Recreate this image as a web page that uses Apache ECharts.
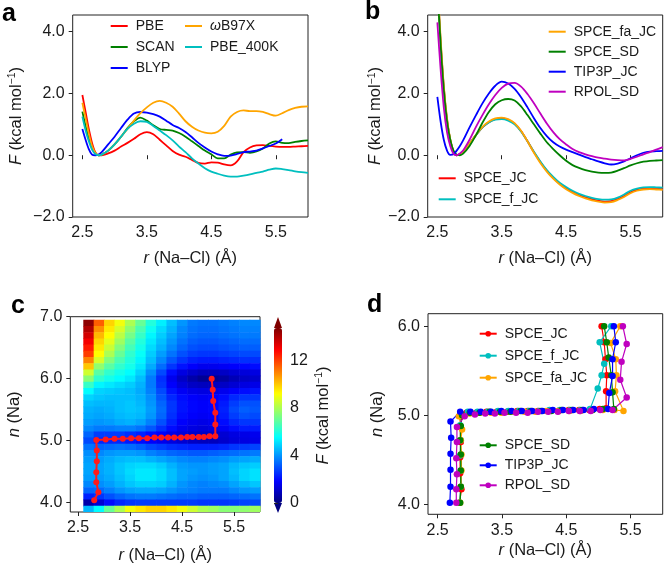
<!DOCTYPE html>
<html>
<head>
<meta charset="utf-8">
<script src="https://cdn.jsdelivr.net/npm/echarts@6/dist/echarts.min.js"></script>
<style>
html, body { margin: 0; padding: 0; background: #fff; }
#chart { width: 664px; height: 565px; }
</style>
</head>
<body>
<div id="chart"></div>
<script>
// ---------- panel a : DFT functionals ----------
const rA = [2.5, 2.55, 2.6, 2.65, 2.7, 2.75, 2.8, 2.9, 3.0, 3.1, 3.2, 3.3, 3.4, 3.5, 3.6, 3.7, 3.8, 3.9, 4.0,
  4.1, 4.2, 4.3, 4.4, 4.5, 4.6, 4.7, 4.8, 4.9, 5.0, 5.1, 5.2, 5.3, 5.4, 5.5, 5.6, 5.7, 5.8, 5.9, 6.0];
const fPBE = [1.95, 1.4, 0.85, 0.4, 0.1, 0.0, 0.0, 0.06, 0.15, 0.28, 0.4, 0.53, 0.68, 0.75, 0.68, 0.5, 0.32, 0.14, 0.02,
  -0.05, -0.15, -0.25, -0.27, -0.23, -0.24, -0.3, -0.33, -0.2, 0.1, 0.25, 0.32, 0.33, 0.3, 0.28, 0.27, 0.27, 0.28, 0.29, 0.3];
const fSCAN = [1.41, 0.95, 0.55, 0.25, 0.07, 0.0, 0.02, 0.15, 0.35, 0.6, 0.88, 1.1, 1.22, 1.12, 0.97, 0.85, 0.82, 0.8, 0.72,
  0.6, 0.45, 0.3, 0.15, 0.03, -0.1, -0.1, 0.02, 0.09, 0.1, 0.08, 0.12, 0.22, 0.38, 0.45, 0.4, 0.39, 0.43, 0.46, 0.48];
const fBLYP = [0.85, 0.5, 0.2, 0.02, 0.0, 0.02, 0.1, 0.35, 0.6, 0.88, 1.15, 1.35, 1.4, 1.38, 1.33, 1.25, 1.12, 0.98, 0.88,
  0.75, 0.58, 0.4, 0.25, 0.12, 0.03, -0.02, -0.01, 0.04, 0.1, 0.12, 0.15, 0.22, 0.3, 0.38, 0.52];
const fWB97X = [1.7, 1.2, 0.7, 0.3, 0.08, 0.0, 0.02, 0.15, 0.35, 0.6, 0.85, 1.12, 1.36, 1.55, 1.7, 1.76, 1.7, 1.57, 1.35,
  1.1, 0.92, 0.8, 0.73, 0.71, 0.76, 0.95, 1.25, 1.4, 1.45, 1.43, 1.43, 1.4, 1.33, 1.28, 1.36, 1.46, 1.53, 1.57, 1.58];
const fPBE400 = [1.25, 0.8, 0.45, 0.18, 0.04, 0.0, 0.02, 0.15, 0.35, 0.6, 0.85, 1.02, 1.1, 1.08, 0.95, 0.8, 0.65, 0.48, 0.28,
  0.1, -0.1, -0.27, -0.42, -0.53, -0.6, -0.66, -0.69, -0.69, -0.66, -0.62, -0.57, -0.53, -0.47, -0.43, -0.45, -0.48, -0.52, -0.55, -0.57];

// ---------- panel b : force fields ----------
const rB = [2.5, 2.55, 2.6, 2.65, 2.7, 2.75, 2.8, 2.85, 2.9, 3.0, 3.1, 3.2, 3.3, 3.4, 3.5, 3.6, 3.7, 3.8, 3.9, 4.0,
  4.1, 4.2, 4.3, 4.4, 4.5, 4.6, 4.7, 4.8, 4.9, 5.0, 5.1, 5.2, 5.3, 5.4, 5.5, 5.6, 5.7, 5.8, 5.9, 6.0];
const fSpceJC = [5.6, 3.7, 2.2, 1.15, 0.5, 0.12, 0.0, 0.03, 0.12, 0.38, 0.65, 0.9, 1.07, 1.17, 1.2, 1.15, 1.02, 0.78, 0.45, 0.1,
  -0.22, -0.5, -0.73, -0.92, -1.06, -1.18, -1.28, -1.36, -1.42, -1.47, -1.5, -1.49, -1.42, -1.32, -1.2, -1.12, -1.08, -1.07, -1.08, -1.1];
const fSpceFJC = [5.6, 3.7, 2.2, 1.15, 0.5, 0.12, 0.0, 0.03, 0.12, 0.38, 0.65, 0.9, 1.06, 1.15, 1.17, 1.12, 1.0, 0.77, 0.45, 0.11,
  -0.2, -0.48, -0.7, -0.89, -1.03, -1.15, -1.25, -1.32, -1.38, -1.42, -1.44, -1.43, -1.37, -1.27, -1.15, -1.08, -1.04, -1.03, -1.04, -1.05];
const fSpceFaJC = [5.7, 3.8, 2.25, 1.2, 0.52, 0.13, 0.0, 0.03, 0.12, 0.38, 0.66, 0.92, 1.09, 1.19, 1.22, 1.17, 1.04, 0.79, 0.45, 0.08,
  -0.25, -0.53, -0.76, -0.95, -1.1, -1.22, -1.32, -1.4, -1.46, -1.5, -1.53, -1.52, -1.45, -1.35, -1.23, -1.15, -1.11, -1.1, -1.11, -1.12];
const fSpceSD = [5.5, 3.6, 2.1, 1.1, 0.5, 0.15, 0.02, 0.0, 0.05, 0.3, 0.65, 1.05, 1.4, 1.65, 1.78, 1.82, 1.77, 1.58, 1.3, 1.0,
  0.7, 0.42, 0.2, 0.0, -0.18, -0.32, -0.41, -0.48, -0.53, -0.56, -0.57, -0.56, -0.5, -0.42, -0.33, -0.26, -0.21, -0.18, -0.17, -0.16];
const fTip3pJC = [1.89, 1.1, 0.5, 0.15, 0.01, 0.03, 0.15, 0.3, 0.48, 0.9, 1.3, 1.68, 2.0, 2.25, 2.38, 2.32, 2.15, 1.88, 1.55, 1.2,
  0.88, 0.62, 0.42, 0.28, 0.18, 0.1, 0.02, -0.06, -0.13, -0.2, -0.26, -0.3, -0.27, -0.2, -0.1, 0.0, 0.08, 0.12, 0.13, 0.14];
const fRpolSD = [4.3, 2.8, 1.55, 0.75, 0.3, 0.05, 0.0, 0.06, 0.15, 0.5, 0.92, 1.3, 1.65, 1.95, 2.18, 2.32, 2.34, 2.22, 1.98, 1.68,
  1.35, 1.03, 0.75, 0.52, 0.35, 0.2, 0.1, 0.03, -0.03, -0.08, -0.11, -0.14, -0.16, -0.17, -0.12, -0.05, 0.03, 0.1, 0.18, 0.26];

// ---------- panel c : free energy surface F(r, n) ----------
const rCols = [2.7, 2.9, 3.1, 3.3, 3.5, 3.7, 3.9, 4.1, 4.3, 4.5, 4.7, 4.9, 5.1, 5.3, 5.5, 5.7, 5.9];
const nRows = [6.9, 6.8, 6.7, 6.6, 6.5, 6.4, 6.3, 6.2, 6.1, 6.0, 5.9, 5.8, 5.7, 5.6, 5.5, 5.4, 5.3, 5.2, 5.1, 5.0,
  4.9, 4.8, 4.7, 4.6, 4.5, 4.4, 4.3, 4.2, 4.1, 4.0, 3.9];
const fGrid = [
  [14.5, 11.5, 9.8, 9.0, 8.0, 7.0, 6.0, 5.3, 4.6, 4.0, 3.6, 3.5, 3.5, 3.6, 3.7, 3.8, 3.8],
  [14.0, 10.8, 9.5, 8.6, 7.6, 6.6, 5.7, 5.0, 4.4, 3.8, 3.5, 3.4, 3.4, 3.5, 3.6, 3.7, 3.7],
  [13.5, 10.2, 9.2, 8.2, 7.2, 6.3, 5.4, 4.8, 4.2, 3.7, 3.4, 3.3, 3.3, 3.4, 3.5, 3.6, 3.6],
  [13.0, 9.8, 8.8, 7.8, 6.8, 6.0, 5.2, 4.6, 4.0, 3.5, 3.2, 3.1, 3.1, 3.2, 3.3, 3.4, 3.4],
  [12.5, 9.5, 8.4, 7.4, 6.5, 5.8, 5.0, 4.4, 3.8, 3.3, 3.0, 2.9, 2.9, 3.0, 3.1, 3.2, 3.2],
  [12.0, 9.2, 8.0, 7.0, 6.2, 5.6, 4.8, 4.1, 3.5, 3.0, 2.7, 2.6, 2.6, 2.7, 2.8, 2.9, 2.9],
  [11.0, 8.6, 7.4, 6.6, 6.0, 5.4, 4.6, 3.8, 3.1, 2.6, 2.3, 2.2, 2.2, 2.3, 2.4, 2.5, 2.5],
  [10.0, 7.6, 6.8, 6.2, 5.8, 5.2, 4.3, 3.4, 2.6, 2.1, 1.8, 1.6, 1.6, 1.7, 1.8, 1.9, 2.0],
  [8.5, 6.8, 6.2, 5.8, 5.5, 4.9, 3.9, 2.9, 2.0, 1.4, 1.1, 0.9, 0.9, 1.0, 1.2, 1.3, 1.4],
  [7.5, 6.2, 5.8, 5.5, 5.2, 4.6, 3.6, 2.5, 1.6, 1.0, 0.6, 0.3, 0.3, 0.5, 0.8, 1.0, 1.1],
  [6.3, 5.4, 5.2, 5.0, 4.8, 4.4, 3.6, 2.6, 1.8, 1.3, 1.0, 0.9, 0.9, 1.0, 1.2, 1.4, 1.5],
  [5.5, 4.9, 4.8, 4.7, 4.6, 4.3, 3.7, 2.9, 2.1, 1.7, 1.5, 1.4, 1.4, 1.6, 1.8, 2.0, 2.1],
  [4.9, 4.7, 4.6, 4.6, 4.6, 4.4, 3.9, 3.1, 2.4, 2.0, 1.8, 1.7, 1.8, 2.0, 2.4, 2.6, 2.6],
  [4.6, 4.5, 4.5, 4.6, 4.7, 4.5, 4.0, 3.3, 2.6, 2.1, 1.9, 1.8, 1.9, 2.2, 2.7, 3.0, 3.0],
  [4.4, 4.3, 4.4, 4.6, 4.7, 4.6, 4.1, 3.4, 2.6, 2.1, 1.9, 1.8, 1.9, 2.3, 2.9, 3.2, 3.1],
  [4.3, 4.2, 4.3, 4.5, 4.6, 4.5, 4.0, 3.3, 2.5, 2.0, 1.8, 1.7, 1.8, 2.2, 2.7, 3.0, 2.9],
  [4.1, 4.0, 4.1, 4.3, 4.4, 4.2, 3.7, 3.0, 2.3, 1.8, 1.6, 1.5, 1.6, 2.0, 2.4, 2.6, 2.6],
  [3.8, 3.6, 3.6, 3.7, 3.7, 3.5, 3.1, 2.5, 2.0, 1.6, 1.4, 1.3, 1.4, 1.7, 2.0, 2.2, 2.2],
  [3.3, 2.7, 2.7, 2.7, 2.5, 2.3, 2.0, 1.8, 1.5, 1.3, 1.1, 1.0, 1.0, 1.2, 1.4, 1.5, 1.6],
  [2.9, 2.4, 2.4, 2.4, 2.2, 2.0, 1.8, 1.6, 1.4, 1.2, 1.0, 0.9, 0.9, 1.1, 1.3, 1.4, 1.5],
  [3.5, 3.3, 3.4, 3.5, 3.4, 3.2, 2.9, 2.7, 2.5, 2.4, 2.3, 2.3, 2.3, 2.4, 2.6, 2.7, 2.8],
  [3.9, 3.8, 4.0, 4.1, 4.1, 4.0, 3.7, 3.5, 3.3, 3.2, 3.1, 3.1, 3.2, 3.3, 3.4, 3.5, 3.6],
  [4.1, 4.1, 4.3, 4.5, 4.6, 4.6, 4.4, 4.2, 4.0, 3.8, 3.7, 3.7, 3.8, 3.9, 4.1, 4.2, 4.3],
  [4.2, 4.2, 4.4, 4.7, 4.9, 5.0, 5.0, 4.8, 4.4, 4.1, 4.0, 4.0, 4.1, 4.2, 4.5, 4.7, 4.8],
  [4.2, 4.2, 4.4, 4.7, 5.0, 5.2, 5.2, 5.0, 4.6, 4.2, 4.1, 4.0, 4.1, 4.2, 4.6, 4.9, 5.1],
  [4.1, 4.1, 4.3, 4.6, 4.9, 5.2, 5.2, 5.0, 4.6, 4.2, 4.0, 3.9, 4.0, 4.2, 4.5, 4.9, 5.1],
  [3.8, 3.9, 4.1, 4.4, 4.7, 4.9, 4.9, 4.8, 4.4, 4.0, 3.8, 3.7, 3.8, 3.9, 4.2, 4.5, 4.7],
  [3.3, 3.4, 3.7, 4.0, 4.2, 4.3, 4.3, 4.2, 4.0, 3.8, 3.7, 3.6, 3.6, 3.6, 3.8, 4.0, 4.1],
  [2.3, 2.6, 3.0, 3.3, 3.5, 3.6, 3.6, 3.5, 3.4, 3.3, 3.3, 3.2, 3.2, 3.2, 3.3, 3.4, 3.5],
  [0.6, 1.2, 2.0, 2.4, 2.6, 2.7, 2.7, 2.7, 2.7, 2.7, 2.7, 2.6, 2.6, 2.6, 2.7, 2.8, 2.9],
  [4.5, 5.5, 7.0, 8.0, 9.0, 9.5, 9.8, 9.8, 9.5, 9.0, 8.5, 8.0, 7.8, 7.5, 7.5, 7.6, 7.8]
];
// minimum free energy path drawn on the surface
const pathR = [2.81, 2.89, 2.85, 2.85, 2.86, 2.86, 2.85, 3.03, 3.2, 3.36, 3.52, 3.67, 3.83, 3.97, 4.1, 4.23, 4.35,
  4.48, 4.6, 4.7, 4.82, 4.92, 5.03, 5.14, 5.14, 5.14, 5.1, 5.09, 5.07];
const pathN = [4.04, 4.17, 4.33, 4.49, 4.67, 4.84, 5.01, 5.02, 5.03, 5.03, 5.04, 5.04, 5.04, 5.05, 5.05, 5.05, 5.05,
  5.05, 5.06, 5.06, 5.06, 5.06, 5.07, 5.07, 5.26, 5.45, 5.64, 5.82, 6.0];

// ---------- panel d : string paths per force field ----------
const dSpceJC = [[2.84, 4.02], [2.87, 4.17], [2.85, 4.35], [2.85, 4.53], [2.86, 4.7], [2.85, 4.87], [2.87, 4.99],
  [2.95, 5.03], [3.1, 5.03], [3.26, 5.04], [3.42, 5.04], [3.58, 5.04], [3.74, 5.05], [3.9, 5.05], [4.06, 5.05],
  [4.22, 5.05], [4.38, 5.05], [4.54, 5.06], [4.7, 5.06], [4.86, 5.06], [5.02, 5.07], [5.12, 5.08],
  [5.12, 5.27], [5.13, 5.45], [5.11, 5.63], [5.09, 5.82], [5.05, 6.0]];
const dSpceFJC = [[2.84, 4.02], [2.86, 4.2], [2.86, 4.38], [2.85, 4.55], [2.86, 4.72], [2.85, 4.89], [2.86, 5.0],
  [2.97, 5.04], [3.12, 5.04], [3.28, 5.04], [3.44, 5.05], [3.6, 5.05], [3.76, 5.05], [3.92, 5.05], [4.08, 5.05],
  [4.24, 5.06], [4.4, 5.06], [4.56, 5.06], [4.72, 5.06], [4.87, 5.07],
  [4.99, 5.3], [5.05, 5.45], [5.09, 5.58], [5.02, 5.82], [5.2, 6.0]];
const dSpceFaJC = [[2.85, 4.02], [2.86, 4.2], [2.87, 4.38], [2.87, 4.56], [2.86, 4.72], [2.88, 4.84], [2.83, 4.99],
  [3.0, 5.02], [3.16, 5.03], [3.33, 5.03], [3.49, 5.03], [3.67, 5.04], [3.85, 5.04], [4.02, 5.04], [4.19, 5.05],
  [4.37, 5.05], [4.55, 5.05], [4.72, 5.05], [4.9, 5.06], [5.07, 5.06], [5.25, 5.06], [5.39, 5.05],
  [5.26, 5.27], [5.28, 5.45], [5.27, 5.63], [5.19, 5.81], [5.34, 6.0]];
const dSpceSD = [[2.85, 4.02], [2.86, 4.2], [2.86, 4.38], [2.86, 4.56], [2.85, 4.72], [2.86, 4.88], [2.88, 5.0],
  [3.0, 5.03], [3.15, 5.03], [3.31, 5.04], [3.47, 5.04], [3.63, 5.04], [3.79, 5.05], [3.95, 5.05], [4.11, 5.05],
  [4.27, 5.05], [4.43, 5.06], [4.59, 5.06], [4.75, 5.06], [4.91, 5.06], [5.07, 5.07], [5.24, 5.07],
  [5.22, 5.26], [5.2, 5.45], [5.16, 5.65], [5.13, 5.82], [5.09, 6.0]];
const dTip3pJC = [[2.69, 4.02], [2.7, 4.2], [2.7, 4.39], [2.7, 4.57], [2.71, 4.75], [2.7, 4.93],
  [2.85, 5.04], [3.01, 5.04], [3.17, 5.04], [3.33, 5.04], [3.49, 5.05], [3.65, 5.05], [3.81, 5.05], [3.97, 5.05],
  [4.13, 5.05], [4.29, 5.06], [4.45, 5.06], [4.61, 5.06], [4.77, 5.06], [4.93, 5.07], [5.15, 5.07],
  [5.17, 5.25], [5.22, 5.44], [5.22, 5.63], [5.27, 5.82], [5.24, 6.0]];
const dRpolSD = [[2.79, 4.02], [2.79, 4.17], [2.8, 4.34], [2.79, 4.52], [2.8, 4.7], [2.8, 4.87],
  [2.92, 4.99], [3.08, 5.01], [3.24, 5.02], [3.39, 5.02], [3.54, 5.03], [3.72, 5.03], [3.9, 5.03], [4.06, 5.04],
  [4.22, 5.04], [4.37, 5.04], [4.54, 5.05], [4.71, 5.05], [4.88, 5.05], [5.03, 5.06], [5.22, 5.06],
  [5.44, 5.2], [5.34, 5.4], [5.36, 5.6], [5.44, 5.8], [5.38, 6.0]];

// ---------- ticks ----------
const rTicks = [2.5, 3.5, 4.5, 5.5];
const fTicks = [-2, 0, 2, 4];
const nTicksC = [4, 5, 6, 7];
const nTicksD = [4, 5, 6];
const cbarTicks = [0, 4, 8, 12];
const cbarMax = 14.7;

const font = 'Liberation Sans';
const ink = '#1a1a1a';
const col = { r: '#ff0000', g: '#008000', b: '#0000ff', c: '#00bfbf', m: '#bf00bf', o: '#ffa500' };
const jet = ['#00007f', '#0000ff', '#007fff', '#00ffff', '#7fff7f', '#ffff00', '#ff7f00', '#ff0000', '#7f0000'];

const nameRich = {
  i: { fontStyle: 'italic', fontFamily: font, fontSize: 16.5, color: ink },
  s: { fontFamily: font, fontSize: 10.5, color: ink, padding: [0, 0, 8, 0] }
};
function fmt(v) { return v.toFixed(1).replace('-', '\u2212'); }
function zip(xs, ys) { return ys.map((y, i) => [xs[i], y]); }

function axis(gridIndex, min, max, ticks, name, nameGap, extra) {
  return Object.assign({
    type: 'value', gridIndex: gridIndex, min: min, max: max,
    name: name, nameLocation: 'middle', nameGap: nameGap,
    nameTextStyle: { fontFamily: font, fontSize: 16.5, color: ink, rich: nameRich },
    axisLine: { show: false },
    axisTick: { show: true, length: 4, lineStyle: { color: '#222' }, customValues: ticks },
    axisLabel: { fontFamily: font, fontSize: 16, color: ink, margin: 8, customValues: ticks, formatter: fmt },
    splitLine: { show: false }
  }, extra || {});
}
const rName = '{i|r} (Na\u2013Cl) (\u00c5)';
const fName = '{i|F} (kcal mol{s|\u22121})';
const box = { show: true, borderColor: '#222', borderWidth: 1, outerBoundsMode: 'none' };

function curve(name, xs, ys, color, xi) {
  return {
    name: name, type: 'line', xAxisIndex: xi, yAxisIndex: xi, data: zip(xs, ys),
    smooth: 0.3, showSymbol: false, symbol: 'none', clip: true,
    lineStyle: { color: color, width: 1.8 }, itemStyle: { color: color }
  };
}
function dPath(name, pts, color) {
  return {
    name: name, type: 'line', xAxisIndex: 3, yAxisIndex: 3, data: pts,
    symbol: 'circle', symbolSize: 6.5, clip: true,
    lineStyle: { color: color, width: 1.2 }, itemStyle: { color: color }
  };
}

const cells = [];
nRows.forEach((n, i) => rCols.forEach((r, j) => cells.push([r, n, fGrid[i][j]])));
const cellW = 0.2, cellH = 0.1;

function legend(names, left, top, gap, icon) {
  const l = {
    data: names, left: left, top: top, orient: 'vertical', padding: 0, itemGap: gap,
    itemWidth: 17, itemHeight: icon ? 2 : 7, selectedMode: false,
    textStyle: { fontFamily: font, fontSize: 14, color: ink, padding: [0, 0, 0, 3],
      rich: { i: { fontFamily: font, fontSize: 14, fontStyle: 'italic', color: ink } } },
    formatter: function (s) { return s === '\u03c9B97X' ? '{i|\u03c9}B97X' : s; }
  };
  if (icon) l.icon = icon;
  return l;
}

const chart = echarts.init(document.getElementById('chart'), null, { renderer: 'canvas' });
chart.setOption({
  animation: false,
  backgroundColor: '#fff',
  grid: [
    Object.assign({ left: 72.7, top: 15, width: 235.3, height: 202 }, box),
    Object.assign({ left: 427.7, top: 15, width: 235, height: 202 }, box),
    Object.assign({ left: 70.3, top: 316.7, width: 189.7, height: 195.3 }, box),
    Object.assign({ left: 428, top: 313.7, width: 234.7, height: 200.6 }, box),
    { left: 274, top: 328, width: 8, height: 175, show: false, outerBoundsMode: 'none' }
  ],
  xAxis: [
    axis(0, 2.35, 6.0, rTicks, rName, 33),
    axis(1, 2.35, 6.0, rTicks, rName, 33),
    axis(2, 2.35, 6.0, rTicks, rName, 35),
    axis(3, 2.35, 6.0, rTicks, rName, 28),
    { type: 'value', gridIndex: 4, show: false, min: 0, max: 1 }
  ],
  yAxis: [
    axis(0, -2.0, 4.54, fTicks, fName, 47),
    axis(1, -2.0, 4.54, fTicks, fName, 41),
    axis(2, 3.85, 7.0, nTicksC, '{i|n} (Na)', 47),
    axis(3, 3.89, 6.14, nTicksD, '{i|n} (Na)', 42),
    axis(4, 0, cbarMax, cbarTicks, fName, 32, {
      position: 'right',
      axisLabel: { fontFamily: font, fontSize: 16, color: ink, margin: 8, customValues: cbarTicks,
        formatter: function (v) { return String(v); } }
    })
  ],
  visualMap: {
    type: 'continuous', min: 0, max: cbarMax, dimension: 2, seriesIndex: 11,
    left: 274, top: 328, itemWidth: 8, itemHeight: 175, padding: 0,
    calculable: false, hoverLink: false, showLabel: false, text: null,
    inRange: { color: jet }
  },
  legend: [
    legend(['PBE', 'SCAN', 'BLYP'], 110.7, 19, 7, 'rect'),
    legend(['\u03c9B97X', 'PBE_400K'], 185, 19, 7, 'rect'),
    legend(['SPCE_fa_JC', 'SPCE_SD', 'TIP3P_JC', 'RPOL_SD'], 548.7, 24.7, 6, 'rect'),
    legend(['SPCE_JC', 'SPCE_f_JC'], 438.7, 171.3, 7, 'rect'),
    legend(['SPCE_JC ', 'SPCE_f_JC ', 'SPCE_fa_JC '], 478.7, 326.7, 8),
    legend(['SPCE_SD ', 'TIP3P_JC ', 'RPOL_SD '], 478.7, 438.3, 6)
  ],
  series: [
    curve('PBE', rA, fPBE, col.r, 0),
    curve('SCAN', rA, fSCAN, col.g, 0),
    curve('BLYP', rA, fBLYP, col.b, 0),
    curve('\u03c9B97X', rA, fWB97X, col.o, 0),
    curve('PBE_400K', rA, fPBE400, col.c, 0),
    curve('SPCE_JC', rB, fSpceJC, col.r, 1),
    curve('SPCE_f_JC', rB, fSpceFJC, col.c, 1),
    curve('SPCE_fa_JC', rB, fSpceFaJC, col.o, 1),
    curve('SPCE_SD', rB, fSpceSD, col.g, 1),
    curve('TIP3P_JC', rB, fTip3pJC, col.b, 1),
    curve('RPOL_SD', rB, fRpolSD, col.m, 1),
    {
      type: 'custom', xAxisIndex: 2, yAxisIndex: 2, data: cells, clip: true, silent: true,
      encode: { x: 0, y: 1 },
      renderItem: function (params, api) {
        const r = api.value(0), n = api.value(1);
        const p0 = api.coord([r - cellW / 2, n + cellH / 2]);
        const p1 = api.coord([r + cellW / 2, n - cellH / 2]);
        return {
          type: 'rect',
          shape: { x: p0[0], y: p0[1], width: p1[0] - p0[0] + 0.6, height: p1[1] - p0[1] + 0.6 },
          style: { fill: api.visual('color') }
        };
      }
    },
    {
      type: 'line', xAxisIndex: 2, yAxisIndex: 2, data: zip(pathR, pathN), z: 5,
      symbol: 'circle', symbolSize: 6, lineStyle: { color: '#ff1a1a', width: 2 }, itemStyle: { color: '#ff1a1a' }
    },
    dPath('SPCE_JC ', dSpceJC, col.r),
    dPath('SPCE_f_JC ', dSpceFJC, col.c),
    dPath('SPCE_fa_JC ', dSpceFaJC, col.o),
    dPath('SPCE_SD ', dSpceSD, col.g),
    dPath('TIP3P_JC ', dTip3pJC, col.b),
    dPath('RPOL_SD ', dRpolSD, col.m)
  ],
  graphic: [
    { type: 'polygon', shape: { points: [[274, 328], [282, 328], [278, 317]] }, style: { fill: '#7f0000' } },
    { type: 'polygon', shape: { points: [[274, 503], [282, 503], [278, 513]] }, style: { fill: '#00007f' } },
    { type: 'text', left: 2, top: 2, style: { text: 'a', font: 'bold 25px "Liberation Sans"', fill: '#000' } },
    { type: 'text', left: 365, top: 0, style: { text: 'b', font: 'bold 25px "Liberation Sans"', fill: '#000' } },
    { type: 'text', left: 11, top: 294, style: { text: 'c', font: 'bold 25px "Liberation Sans"', fill: '#000' } },
    { type: 'text', left: 367, top: 293, style: { text: 'd', font: 'bold 25px "Liberation Sans"', fill: '#000' } }
  ]
});
</script>
</body>
</html>
